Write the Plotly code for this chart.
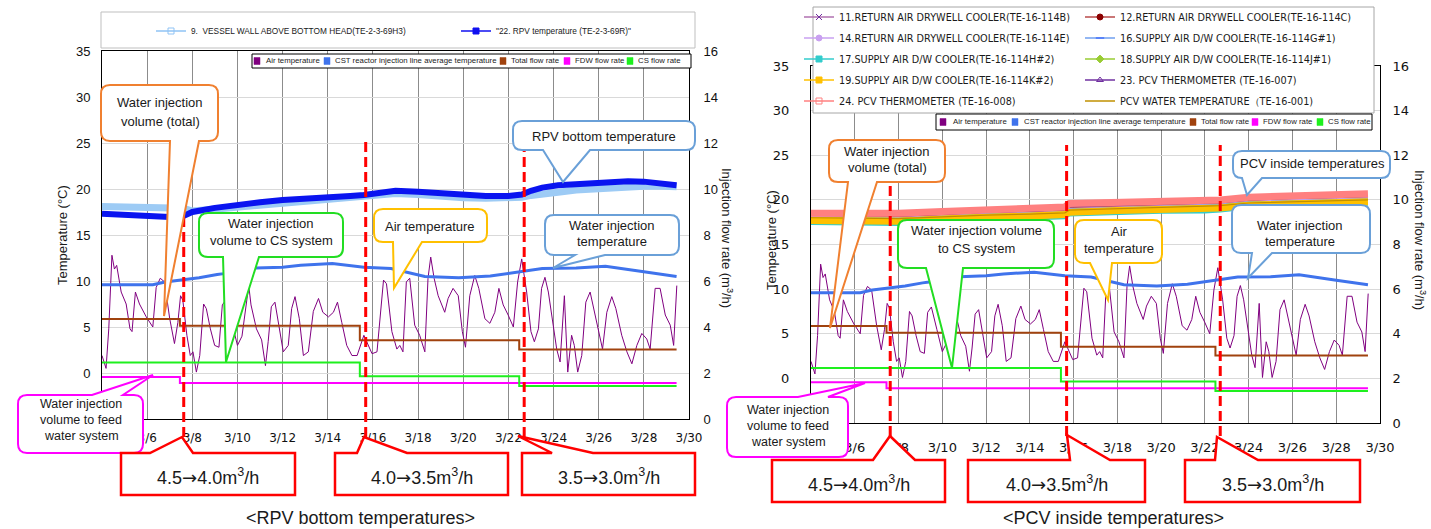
import plotly.graph_objects as go

W, H = 1431, 529

# ---------------- data ----------------
tick_days = [4, 6, 8, 10, 12, 14, 16, 18, 20, 22, 24, 26, 28, 30]
tick_labels = ["", "3/6", "3/8", "3/10", "3/12", "3/14", "3/16", "3/18",
               "3/20", "3/22", "3/24", "3/26", "3/28", "3/30"]
temp_ticks = [0, 5, 10, 15, 20, 25, 30, 35]
flow_ticks = [0, 2, 4, 6, 8, 10, 12, 14, 16]

# RPV bottom temperatures (deg C)
rpv_days = [4, 5, 6, 7, 7.6, 8, 9, 10, 11, 12, 13, 14, 15, 15.6, 16.2, 17, 18, 19,
            20, 21, 22, 22.6, 23, 23.5, 24.2, 25, 25.8, 26.5, 27.3, 28, 28.8, 29.45]
rpv_te_69r = [17.3, 17.15, 17.0, 16.95, 17.05, 17.5, 17.95, 18.3, 18.55, 18.8, 19.0,
              19.15, 19.25, 19.35, 19.5, 19.8, 19.7, 19.5, 19.3, 19.25, 19.25, 19.4,
              19.8, 20.15, 20.4, 20.55, 20.7, 20.8, 20.85, 20.8, 20.6, 20.4]
rpv_te_69h3 = [18.1, 18.05, 18.0, 17.95, 17.9, 17.6, 17.8, 18.05, 18.3, 18.55, 18.75,
               18.9, 19.0, 19.1, 19.25, 19.5, 19.4, 19.2, 19.05, 19.0, 19.0, 19.1,
               19.3, 19.5, 19.65, 19.9, 20.05, 20.15, 20.25, 20.3, 20.3, 20.25]

# CST reactor injection line average temperature (deg C)
cst_days = [4, 5, 6.25, 6.8, 7.6, 8.3, 9.1, 9.4, 10.8, 12.0, 12.8, 14.2, 15.6, 16.8,
            18.3, 19.8, 21.2, 22.4, 23.5, 25.0, 26.3, 28.0, 29.45]
cst_temp = [9.6, 9.6, 9.6, 9.9, 10.15, 10.35, 10.7, 10.8, 11.4, 11.5, 11.7, 11.9, 11.5,
            11.35, 10.5, 10.35, 10.55, 11.0, 11.35, 11.4, 11.6, 11.0, 10.5]

# Air temperature (deg C)
air_days = [4.0, 4.18, 4.3, 4.44, 4.55, 4.65, 4.85, 5.07, 5.24, 5.33,
            5.48, 5.66, 5.96, 6.25, 6.4, 6.58, 6.77, 7.0, 7.21, 7.36,
            7.48, 7.58, 7.76, 7.91, 8.03, 8.18, 8.33, 8.5, 8.62, 8.8,
            8.99, 9.18, 9.33, 9.5, 9.75, 10.0, 10.2, 10.5, 10.6, 10.84,
            11.07, 11.24, 11.36, 11.5, 11.66, 11.8, 12.03, 12.25, 12.4, 12.55,
            12.74, 12.92, 13.14, 13.36, 13.59, 13.78, 14.03, 14.25, 14.43, 14.62,
            14.84, 15.07, 15.3, 15.6, 15.73, 15.96, 16.18, 16.47, 16.6, 16.84,
            17.06, 17.19, 17.33, 17.48, 17.63, 17.85, 18.07, 18.3, 18.44, 18.56,
            18.71, 18.89, 19.18, 19.33, 19.55, 19.78, 19.96, 20.1, 20.29, 20.51,
            20.69, 20.96, 21.18, 21.4, 21.58, 21.77, 21.99, 22.22, 22.41, 22.59,
            22.81, 23.0, 23.15, 23.33, 23.47, 23.62, 23.77, 23.95, 24.14, 24.29,
            24.48, 24.63, 24.8, 24.92, 25.07, 25.25, 25.43, 25.62, 25.81, 25.99,
            26.17, 26.36, 26.58, 26.76, 27.02, 27.25, 27.47, 27.69, 27.91, 28.13,
            28.28, 28.5, 28.72, 28.95, 29.17, 29.32, 29.46]
air_temp = [1.9, 0.5, 4.8, 12.8, 11.3, 11.7, 8.8, 7.5, 4.8, 4.5,
            8.8, 7.5, 6.1, 5.0, 9.3, 10.3, 9.9, 5.9, 3.2, 5.5,
            8.4, 7.9, 4.1, 1.9, 2.3, 0.1, 1.9, 7.5, 7.0, 4.8,
            3.0, 2.8, 7.4, 8.0, 5.5, 3.0, 4.0, 9.5, 7.4, 4.8,
            3.6, 0.8, 3.4, 7.2, 7.7, 5.5, 2.3, 3.0, 7.0, 8.3,
            5.9, 1.9, 2.3, 6.7, 8.1, 6.6, 6.1, 6.6, 7.7, 5.5,
            3.0, 1.9, 1.9, 4.1, 3.4, 2.1, 2.3, 10.1, 9.7, 4.5,
            2.6, 3.0, 2.3, 9.9, 10.3, 5.2, 4.1, 2.3, 10.3, 12.6,
            10.3, 8.4, 6.6, 8.1, 9.2, 8.4, 4.5, 2.8, 8.4, 10.6,
            9.2, 5.9, 5.4, 6.6, 9.2, 7.4, 6.3, 5.0, 9.9, 12.4,
            8.8, 4.5, 3.4, 4.8, 9.2, 10.4, 8.8, 5.9, 2.6, 1.2,
            8.4, 0.1, 4.1, 3.0, 0.1, 1.9, 7.7, 8.8, 6.6, 4.5,
            2.6, 6.6, 8.3, 7.0, 4.1, 2.3, 1.0, 3.0, 4.3, 3.7,
            2.6, 9.2, 9.2, 6.3, 5.2, 3.0, 9.5]

# Injection flow rates (m3/h), step changes
flow_days = [4, 7.45, 15.42, 22.48, 29.45]
total_flow = [4.35, 4.05, 3.42, 3.02, 3.02]
fdw_flow = [1.83, 1.56, 1.56, 1.56, 1.56]
cs_flow = [2.46, 2.46, 1.86, 1.43, 1.43]

# PCV inside temperatures (deg C)
pcv_days = [4, 6, 8, 10, 12, 14, 15.6, 15.8, 18, 20, 22, 22.7, 24, 26, 28, 29.45]
te_114b = [18.3, 18.25, 18.2, 18.4, 18.6, 18.7, 18.9, 19.2, 19.35, 19.45, 19.6, 19.7, 20.0, 20.2, 20.3, 20.4]
te_114c = [18.2, 18.15, 18.1, 18.3, 18.5, 18.6, 18.8, 19.1, 19.25, 19.35, 19.5, 19.6, 19.9, 20.1, 20.2, 20.3]
te_114e = [18.1, 18.05, 18.0, 18.2, 18.45, 18.55, 18.7, 19.0, 19.15, 19.3, 19.4, 19.5, 19.8, 20.0, 20.1, 20.2]
te_114g = [18.0, 17.95, 17.9, 18.15, 18.4, 18.5, 18.65, 18.95, 19.1, 19.2, 19.35, 19.45, 19.75, 19.9, 20.0, 20.1]
te_114h = [17.35, 17.3, 17.25, 17.5, 17.75, 17.85, 18.0, 18.3, 18.5, 18.6, 18.65, 18.75, 19.1, 19.3, 19.4, 19.5]
te_114j = [18.0, 17.95, 17.9, 18.1, 18.35, 18.45, 18.6, 18.9, 19.0, 19.15, 19.3, 19.4, 19.7, 19.85, 19.95, 20.05]
te_114k = [17.7, 17.65, 17.6, 17.85, 18.1, 18.2, 18.35, 18.6, 18.8, 18.9, 19.05, 19.1, 19.4, 19.6, 19.7, 19.8]
te_007 = [18.35, 18.3, 18.25, 18.45, 18.65, 18.75, 18.95, 19.25, 19.4, 19.5, 19.65, 19.75, 20.1, 20.25, 20.35, 20.45]
te_008 = [18.5, 18.5, 18.5, 18.7, 18.9, 19.0, 19.2, 19.6, 19.7, 19.8, 19.9, 20.0, 20.3, 20.5, 20.6, 20.7]
te_001 = [18.0, 17.95, 17.9, 18.1, 18.3, 18.4, 18.55, 18.85, 19.05, 19.15, 19.3, 19.35, 19.65, 19.8, 19.9, 20.0]

# flow-rate change dates and labels
change_days = [7.62, 15.68, 22.7]
ARROW = "<span style='font-family:DejaVu Sans'>→</span>"
rate_labels = ["4.5" + ARROW + "4.0m<sup>3</sup>/h",
               "4.0" + ARROW + "3.5m<sup>3</sup>/h",
               "3.5" + ARROW + "3.0m<sup>3</sup>/h"]

inner_labels = ["Air temperature", "CST reactor injection line average temperature",
                "Total flow rate", "FDW flow rate", "CS flow rate"]

# ---------------- styles ----------------
AIR, CST, TOT, FDW, CSF = "#800080", "#3f73ec", "#a0420e", "#ff00ff", "#1ef01e"
RPV9, RPV22 = "#9dcbf5", "#0a14f0"
SANS = "Liberation Sans, Arial, sans-serif"
VER = "DejaVu Sans, Verdana, sans-serif"
VGRID, HGRID = "#8c8c8c", "#d9d9d9"


def X(px):
    return px / W


def Y(py):
    return 1 - py / H


fig = go.Figure()


def add_line(x, y, name, color, width, xa, ya, shape="linear"):
    fig.add_trace(go.Scatter(x=x, y=y, name=name, mode="lines",
                             line=dict(color=color, width=width, shape=shape),
                             xaxis=xa, yaxis=ya, showlegend=False))


# ---- left panel: RPV bottom temperatures
add_line(air_days, air_temp, "Air temperature", AIR, 1, "x", "y")
add_line(cst_days, cst_temp, "CST reactor injection line average temperature", CST, 3, "x", "y")
add_line(rpv_days, rpv_te_69h3, "9.  VESSEL WALL ABOVE BOTTOM HEAD(TE-2-3-69H3)", RPV9, 7, "x", "y")
add_line(rpv_days, rpv_te_69r, "\"22. RPV temperature (TE-2-3-69R)\"", RPV22, 6, "x", "y")
add_line(flow_days, total_flow, "Total flow rate", TOT, 2, "x", "y2", "hv")
add_line(flow_days, fdw_flow, "FDW flow rate", FDW, 2, "x", "y2", "hv")
add_line(flow_days, cs_flow, "CS flow rate", CSF, 2, "x", "y2", "hv")

# ---- right panel: PCV inside temperatures
pcv_series = [
    ("11.RETURN AIR DRYWELL COOLER(TE-16-114B)", te_114b, "#b070b0", 1.5, "x-thin-open", "#7030a0", "legend3"),
    ("12.RETURN AIR DRYWELL COOLER(TE-16-114C)", te_114c, "#b84a4a", 1.5, "circle", "#8b0000", "legend4"),
    ("14.RETURN AIR DRYWELL COOLER(TE-16-114E)", te_114e, "#c9a0f0", 1.5, "circle", "#c9a0f0", "legend3"),
    ("16.SUPPLY AIR D/W COOLER(TE-16-114G#1)", te_114g, "#6f9fef", 1.5, "line-ew-open", "#2050ff", "legend4"),
    ("17.SUPPLY AIR D/W COOLER(TE-16-114H#2)", te_114h, "#33cccc", 3, "square", "#33cccc", "legend3"),
    ("18.SUPPLY AIR D/W COOLER(TE-16-114J#1)", te_114j, "#99cc33", 1.5, "diamond", "#99cc33", "legend4"),
    ("19.SUPPLY AIR D/W COOLER(TE-16-114K#2)", te_114k, "#ffc000", 7, "square", "#ffc000", "legend3"),
    ("23. PCV THERMOMETER (TE-16-007)", te_007, "#7030a0", 1.5, "triangle-up-open", "#7030a0", "legend4"),
    ("24. PCV THERMOMETER (TE-16-008)", te_008, "#ff8080", 7, "square-open", "#ff8080", "legend3"),
    ("PCV WATER TEMPERATURE（TE-16-001)", te_001, "#c09000", 1.2, None, "#c09000", "legend4"),
]
for name, vals, col, wid, sym, mcol, lg in pcv_series:
    add_line(pcv_days, vals, name, col, wid, "x2", "y3")
add_line(air_days, air_temp, "Air temperature", AIR, 1, "x2", "y3")
add_line(cst_days, cst_temp, "CST reactor injection line average temperature", CST, 3, "x2", "y3")
add_line(flow_days, total_flow, "Total flow rate", TOT, 2, "x2", "y4", "hv")
add_line(flow_days, fdw_flow, "FDW flow rate", FDW, 2, "x2", "y4", "hv")
add_line(flow_days, cs_flow, "CS flow rate", CSF, 2, "x2", "y4", "hv")

# ---- legend entries (legend-only traces)
for name, col, sym, lg in [
        ("9.  VESSEL WALL ABOVE BOTTOM HEAD(TE-2-3-69H3)", "#8fc3f5", "square-open", "legend"),
        ("\"22. RPV temperature (TE-2-3-69R)\"", "#1010f0", "square", "legend2")]:
    fig.add_trace(go.Scatter(x=[None], y=[None], name=name, mode="lines+markers",
                             line=dict(color=col, width=1.5),
                             marker=dict(symbol=sym, size=6, color=col, line=dict(color=col, width=1)),
                             legend=lg, xaxis="x", yaxis="y", showlegend=True))
for name, vals, col, wid, sym, mcol, lg in pcv_series:
    fig.add_trace(go.Scatter(x=[None], y=[None], name=name,
                             mode="lines+markers" if sym else "lines",
                             line=dict(color=col, width=1.5),
                             marker=dict(symbol=sym or "circle", size=6, color=mcol,
                                         line=dict(color=mcol, width=1)),
                             legend=lg, legendgroup=name, xaxis="x2", yaxis="y3", showlegend=True))

shapes = []
annotations = []


def rect(x0, y0, x1, y1, line_color, fill, width=1):
    shapes.append(dict(type="rect", xref="paper", yref="paper", x0=X(x0), x1=X(x1),
                       y0=Y(y1), y1=Y(y0), line=dict(color=line_color, width=width),
                       fillcolor=fill, layer="above"))


def text(px, py, s, size=13, family=SANS, color="#1a1a1a", xanchor="center", angle=0):
    annotations.append(dict(x=X(px), y=Y(py), xref="paper", yref="paper", text=s,
                            showarrow=False, font=dict(family=family, size=size, color=color),
                            xanchor=xanchor, yanchor="middle", textangle=angle))


def p(x, y):
    return f"{X(x):.5f},{Y(y):.5f}"


def bubble(x0, y0, x1, y1, side, xa, xb, ax, ay, color, r=9):
    d = f"M{p(x0 + r, y0)}"
    if side == "top":
        d += f" L{p(xa, y0)} L{p(ax, ay)} L{p(xb, y0)}"
    d += f" L{p(x1 - r, y0)} Q{p(x1, y0)} {p(x1, y0 + r)}"
    d += f" L{p(x1, y1 - r)} Q{p(x1, y1)} {p(x1 - r, y1)}"
    if side == "bottom":
        d += f" L{p(xb, y1)} L{p(ax, ay)} L{p(xa, y1)}"
    d += f" L{p(x0 + r, y1)} Q{p(x0, y1)} {p(x0, y1 - r)}"
    d += f" L{p(x0, y0 + r)} Q{p(x0, y0)} {p(x0 + r, y0)} Z"
    shapes.append(dict(type="path", xref="paper", yref="paper", path=d, fillcolor="white",
                       line=dict(color=color, width=2), layer="above"))


def notch_box(x0, y0, x1, y1, nb0, nb1, ax, ay, label):
    d = (f"M{p(x0, y0)} L{p(nb0, y0)} L{p(ax, ay)} L{p(nb1, y0)} L{p(x1, y0)}"
         f" L{p(x1, y1)} L{p(x0, y1)} Z")
    shapes.append(dict(type="path", xref="paper", yref="paper", path=d, fillcolor="white",
                       line=dict(color="#ff0000", width=2.5), layer="above"))
    text((x0 + x1) / 2, (y0 + y1) / 2 + 2, label, size=18)


# ---- legend frames
rect(101, 12, 695, 48, "#bfbfbf", "white")
rect(813, 7, 1374, 113, "#a6a6a6", "white")


def inner_legend(box, sq_x, tx_x, cy):
    rect(*box, "#000000", "white")
    for lab, col, sx, tx in zip(inner_labels, [AIR, CST, TOT, FDW, CSF], sq_x, tx_x):
        rect(sx - 3, cy - 3.5, sx + 3, cy + 3.5, col, col, 0.5)
        text(tx, cy, lab, size=7.8, family=SANS, xanchor="left")


inner_legend((252, 54, 691, 68), [257, 327, 503, 567, 630], [264, 333, 509, 573, 636], 61)
inner_legend((936, 114, 1372, 130), [943, 1015, 1193, 1255, 1320], [951, 1022, 1199, 1261, 1326], 122)

# ---- dashed change lines
for xa, top, bot in [("x", 140, 437), ("x2", 145, 436)]:
    for d in change_days:
        shapes.append(dict(type="line", xref=xa, yref="paper", x0=d, x1=d, y0=Y(bot), y1=Y(top),
                           line=dict(color="#ff0000", width=3, dash="10px,5px"), layer="above"))

# ---- callouts, left panel
OR, GR, YE, BL, MG = "#f08030", "#22dd22", "#ffc000", "#6aa0d8", "#ff00ff"
bubble(101, 85, 218, 141, "bottom", 170, 199, 164, 316, OR)
text(160, 102, "Water injection"); text(160, 122, "volume (total)")
bubble(199, 213, 343, 257, "bottom", 223, 259, 226, 362, GR)
text(271, 223, "Water injection"); text(271, 240, "volume to CS system")
bubble(374, 209, 487, 242, "bottom", 393, 422, 394, 288, YE)
text(430, 226, "Air temperature")
bubble(513, 121, 695, 150, "bottom", 543, 590, 563, 182, BL)
text(604, 136, "RPV bottom temperature")
bubble(545, 215, 679, 255, "bottom", 575, 605, 553, 268, BL)
text(612, 225, "Water injection"); text(612, 242, "temperature")
bubble(18, 395, 143, 453, "top", 92, 123, 153, 375, MG)
text(81, 404, "Water injection", 12.5); text(81, 420, "volume to feed", 12.5); text(81, 436, "water system", 12.5)

# ---- callouts, right panel
bubble(829, 140, 945, 182, "bottom", 848, 877, 830, 328, OR)
text(887, 151, "Water injection"); text(887, 167, "volume (total)")
bubble(898, 220, 1054, 268, "bottom", 926, 963, 952, 368, GR)
text(976, 231, "Water injection volume"); text(976, 248, "to CS system")
bubble(1075, 220, 1162, 263, "bottom", 1090, 1112, 1108, 300, YE)
text(1119, 232, "Air"); text(1119, 248, "temperature")
bubble(1233, 151, 1390, 178, "bottom", 1242, 1262, 1247, 195, BL)
text(1312, 163, "PCV inside temperatures")
bubble(1232, 205, 1370, 253, "bottom", 1252, 1272, 1248, 278, BL)
text(1300, 225, "Water injection"); text(1300, 241, "temperature")
bubble(727, 397, 848, 457, "top", 798, 828, 865, 383, MG)
text(788, 410, "Water injection", 12.5); text(788, 426, "volume to feed", 12.5); text(788, 442, "water system", 12.5)

# ---- red rate boxes
notch_box(121, 453, 295, 495, 150, 193, 182, 437, rate_labels[0])
notch_box(335, 453, 508, 495, 357, 407, 364, 437, rate_labels[1])
notch_box(522, 453, 695, 495, 552, 593, 518, 436, rate_labels[2])
notch_box(772, 460, 945, 502, 873, 915, 890, 436, rate_labels[0])
notch_box(968, 460, 1145, 502, 1070, 1110, 1067, 435, rate_labels[1])
notch_box(1185, 460, 1360, 502, 1215, 1258, 1217, 437, rate_labels[2])

# ---- titles
text(360, 518, "&lt;RPV bottom temperatures&gt;", 18)
text(1113, 518, "&lt;PCV inside temperatures&gt;", 18)
text(62, 235, "Temperature (°C)", 13, angle=-90)
text(727, 238, "Injection flow rate (m<sup>3</sup>/h)", 13, angle=90)
text(771, 240, "Temperature (°C)", 13, angle=-90)
text(1420, 240, "Injection flow rate (m<sup>3</sup>/h)", 13, angle=90)


def xaxis(dom, anchor, standoff, size):
    return dict(domain=dom, anchor=anchor, range=[4, 30], tickvals=tick_days, ticktext=tick_labels,
                showgrid=True, gridcolor=VGRID, gridwidth=1, showline=True, linecolor="black",
                mirror=True, zeroline=False, ticks="", ticklabelstandoff=standoff,
                tickfont=dict(family=VER, size=size, color="#111"))


def tempaxis(dom, anchor, family, size, standoff):
    return dict(domain=dom, anchor=anchor, range=[-5, 35], tickvals=temp_ticks, showgrid=True,
                gridcolor=HGRID, gridwidth=1, showline=True, linecolor="black", zeroline=False,
                ticks="", ticklabelstandoff=standoff, tickfont=dict(family=family, size=size, color="#111"))


def flowaxis(over, anchor, family, size, standoff):
    return dict(overlaying=over, anchor=anchor, side="right", range=[0, 16], tickvals=flow_ticks,
                showgrid=False, showline=True, linecolor="black", zeroline=False, ticks="",
                ticklabelstandoff=standoff, tickfont=dict(family=family, size=size, color="#111"))


leg_common = dict(xanchor="left", yanchor="top", bgcolor="rgba(0,0,0,0)", borderwidth=0,
                  itemclick=False, itemdoubleclick=False)
fig.update_layout(
    width=W, height=H, autosize=False, margin=dict(l=0, r=0, t=0, b=0, autoexpand=False),
    paper_bgcolor="white", plot_bgcolor="white",
    xaxis=xaxis([X(102), X(689)], "y", 8, 12),
    yaxis=tempaxis([Y(419), Y(51)], "x", SANS, 13, 8),
    yaxis2=flowaxis("y", "x", SANS, 13, 11),
    xaxis2=xaxis([X(811), X(1380)], "y3", 12, 13),
    yaxis3=tempaxis([Y(423), Y(66)], "x2", VER, 13, 18),
    yaxis4=flowaxis("y3", "x2", VER, 13, 9),
    legend=dict(x=X(151), y=Y(16.5), font=dict(family=SANS, size=8.3, color="#1a1a1a"), **leg_common),
    legend2=dict(x=X(456), y=Y(16.5), font=dict(family=SANS, size=8.3, color="#1a1a1a"), **leg_common),
    legend3=dict(x=X(799), y=Y(2.5), tracegroupgap=2, font=dict(family=VER, size=9.7, color="#1a1a1a"), **leg_common),
    legend4=dict(x=X(1080), y=Y(2.5), tracegroupgap=2, font=dict(family=VER, size=9.7, color="#1a1a1a"), **leg_common),
    shapes=shapes, annotations=annotations, showlegend=True,
)

fig.write_html("out.html", config={"displayModeBar": False},
               post_script="document.body.style.margin='0px';document.body.style.padding='0px';"
                           "document.documentElement.style.overflow='hidden';")
